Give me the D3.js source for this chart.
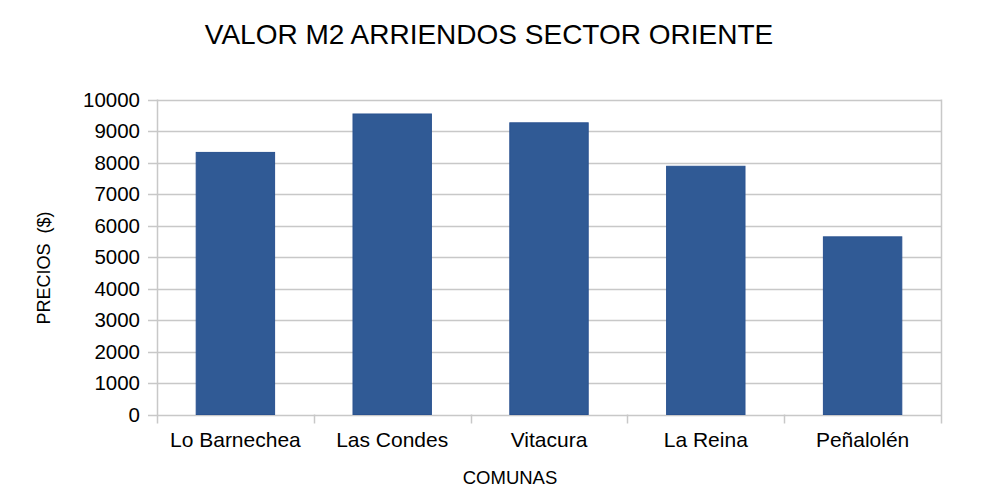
<!DOCTYPE html>
<html>
<head>
<meta charset="utf-8">
<script src="https://cdn.jsdelivr.net/npm/d3@7"></script>
<style>
  body { margin: 0; background: #fff; }
  text { font-family: "Liberation Sans", Arial, sans-serif; fill: #000; }
</style>
</head>
<body>
<script>
// Data
const comunas = ["Lo Barnechea", "Las Condes", "Vitacura", "La Reina", "Peñalolén"];
const precios = [8320, 9540, 9260, 7880, 5640];
const yTicks = [0, 1000, 2000, 3000, 4000, 5000, 6000, 7000, 8000, 9000, 10000];

// Parameters
const w = 1000;
const h = 500;
const plotLeft = 157, plotRight = 941, plotTop = 99.5, plotBottom = 414.5;
const gridColor = "#c8c8c8";

const svg = d3.select("body").append("svg").attr("width", w).attr("height", h);

// Scales
const xScale = d3.scaleBand().domain(comunas).range([plotLeft, plotRight]).paddingInner(0.5).paddingOuter(0.25);
const xEdges = d3.scaleLinear().domain([0, comunas.length]).range([plotLeft, plotRight]);
const yScale = d3.scaleLinear().domain([0, 10000]).range([plotBottom, plotTop]);

// Grid lines
svg.append("g")
  .selectAll("line")
  .data(yTicks)
  .enter()
  .append("line")
  .attr("x1", plotLeft - 9)
  .attr("x2", plotRight)
  .attr("y1", (d) => Math.round(yScale(d)) + 0.5)
  .attr("y2", (d) => Math.round(yScale(d)) + 0.5)
  .attr("stroke", gridColor)
  .attr("stroke-width", 1.5);

// Category separators / x ticks
svg.append("g")
  .selectAll("line")
  .data(d3.range(comunas.length + 1))
  .enter()
  .append("line")
  .attr("x1", (i) => Math.round(xEdges(i)) + 0.5)
  .attr("x2", (i) => Math.round(xEdges(i)) + 0.5)
  .attr("y1", (i) => (i === 0 || i === comunas.length ? plotTop : plotBottom))
  .attr("y2", plotBottom + 9)
  .attr("stroke", gridColor)
  .attr("stroke-width", 1.5);

// Bars
svg.append("g")
  .selectAll("rect")
  .data(precios)
  .enter()
  .append("rect")
  .attr("x", (d, i) => xScale(comunas[i]))
  .attr("y", (d) => yScale(d))
  .attr("width", xScale.bandwidth())
  .attr("height", (d) => plotBottom - yScale(d))
  .attr("fill", "#305a95")
  .attr("stroke", "#2a5290")
  .attr("stroke-width", 1);

// Y axis labels
svg.append("g")
  .selectAll("text")
  .data(yTicks)
  .enter()
  .append("text")
  .attr("x", 140)
  .attr("y", (d) => yScale(d))
  .attr("dy", "0.35em")
  .attr("text-anchor", "end")
  .style("font-size", "20.5px")
  .text((d) => d);

// X axis labels
svg.append("g")
  .selectAll("text")
  .data(comunas)
  .enter()
  .append("text")
  .attr("x", (d) => xScale(d) + xScale.bandwidth() / 2)
  .attr("y", 447)
  .attr("text-anchor", "middle")
  .style("font-size", "21px")
  .text((d) => d);

// Title
svg.append("text")
  .attr("x", 489)
  .attr("y", 44)
  .attr("text-anchor", "middle")
  .style("font-size", "28px")
  .text("VALOR M2 ARRIENDOS SECTOR ORIENTE");

// Axis titles
svg.append("text")
  .attr("x", 510)
  .attr("y", 484)
  .attr("text-anchor", "middle")
  .style("font-size", "18.5px")
  .text("COMUNAS");

svg.append("text")
  .attr("transform", "translate(50,268) rotate(-90)")
  .attr("text-anchor", "middle")
  .style("font-size", "18px")
  .style("white-space", "pre")
  .text("PRECIOS  ($)");
</script>
</body>
</html>
